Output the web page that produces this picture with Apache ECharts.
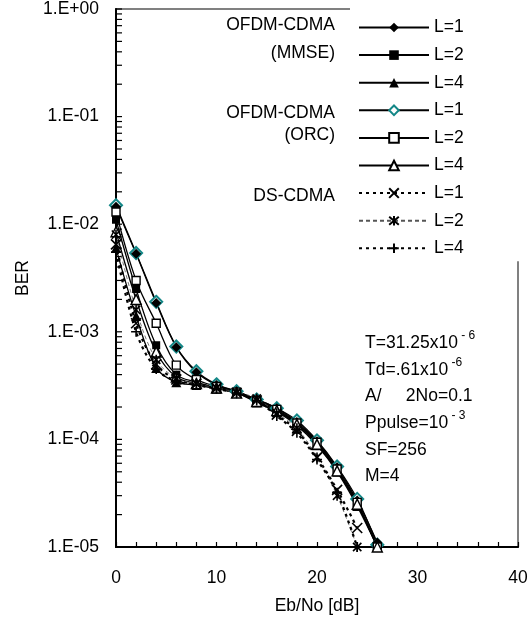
<!DOCTYPE html>
<html>
<head>
<meta charset="utf-8">
<script src="https://cdn.jsdelivr.net/npm/echarts@6/dist/echarts.min.js"></script>
<style>
  html, body { margin: 0; padding: 0; background: #fff; }
  #chart { width: 532px; height: 623px; }
</style>
</head>
<body>
<div id="chart"></div>
<script>
// Eb/No sample points (dB)
const ofdmX = [0, 2, 4, 6, 8, 10, 12, 14, 16, 18, 20, 22, 24, 26];
const dsX = [0, 2, 4, 6, 8, 10, 12, 14, 16, 18, 20, 22, 24];

// OFDM-CDMA, MMSE combining
const mmseL1 = [1.45e-2, 5.3e-3, 1.85e-3, 7.2e-4, 4.2e-4, 3.2e-4, 2.8e-4, 2.35e-4, 1.95e-4, 1.45e-4, 9.6e-5, 5.5e-5, 2.7e-5, 1.1e-5];
const mmseL2 = [1.1e-2, 2.5e-3, 7.5e-4, 4.0e-4, 3.4e-4, 3.0e-4, 2.7e-4, 2.25e-4, 1.85e-4, 1.4e-4, 9.2e-5, 5.2e-5, 2.5e-5, 1.0e-5];
const mmseL4 = [6.0e-3, 1.4e-3, 4.6e-4, 3.4e-4, 3.2e-4, 2.95e-4, 2.7e-4, 2.2e-4, 1.8e-4, 1.35e-4, 8.8e-5, 5.0e-5, 2.4e-5, 1.0e-5];
// OFDM-CDMA, ORC
const orcL1 = [1.5e-2, 5.4e-3, 1.9e-3, 7.3e-4, 4.3e-4, 3.25e-4, 2.8e-4, 2.35e-4, 1.95e-4, 1.5e-4, 9.8e-5, 5.6e-5, 2.8e-5, 1.05e-5];
const orcL2 = [1.3e-2, 3.0e-3, 1.2e-3, 4.9e-4, 3.6e-4, 3.1e-4, 2.75e-4, 2.3e-4, 1.9e-4, 1.42e-4, 9.4e-5, 5.3e-5, 2.6e-5, 1.0e-5];
const orcL4 = [8.5e-3, 2.0e-3, 6.5e-4, 3.8e-4, 3.3e-4, 3.0e-4, 2.7e-4, 2.25e-4, 1.85e-4, 1.38e-4, 9.0e-5, 5.1e-5, 2.5e-5, 1.0e-5];
// DS-CDMA
const dsL1 = [6.5e-3, 1.2e-3, 5.0e-4, 3.6e-4, 3.3e-4, 3.0e-4, 2.7e-4, 2.3e-4, 1.7e-4, 1.2e-4, 6.8e-5, 3.4e-5, 1.5e-5];
const dsL2 = [8.0e-3, 1.6e-3, 5.5e-4, 3.7e-4, 3.3e-4, 3.0e-4, 2.75e-4, 2.4e-4, 1.75e-4, 1.27e-4, 6.8e-5, 3.0e-5, 1.0e-5];
const dsL4 = [5.5e-3, 1.0e-3, 4.5e-4, 3.5e-4, 3.2e-4, 2.95e-4, 2.7e-4, 2.3e-4, 1.65e-4, 1.15e-4, 6.5e-5, 3.2e-5, 1.0e-5];

// log axis ticks (decades and their 2..9 multiples)
const decades = [1e-5, 1e-4, 1e-3, 1e-2, 1e-1];
const tickMultipliers = [1, 2, 3, 4, 5, 6, 7, 8, 9];

const FONT = '"Liberation Sans", Arial, sans-serif';
const FS = 17.5;

const chart = echarts.init(document.getElementById('chart'));

function pairs(xs, ys) {
    return ys.map((y, i) => [xs[i], y]);
}

let yTicks = [[0, 1]];
decades.forEach(d => tickMultipliers.forEach(m => yTicks.push([0, d * m])));

const crossPath = 'path://M0,0L10,10M10,0L0,10';
const starPath = 'path://M0,1L10,11M10,1L0,11M5,0L5,12';
const plusPath = 'path://M5,0L5,10M0,5L10,5';

function ofdmSeries(name, ys, symbol, size, itemStyle) {
    return {
        name: name,
        type: 'line',
        data: pairs(ofdmX, ys),
        smooth: 0.35,
        symbol: symbol,
        symbolSize: size,
        color: '#000',
        lineStyle: { color: '#000', width: 1.3 },
        itemStyle: itemStyle
    };
}

function dsSeries(name, ys, symbol, lineStyle) {
    return {
        name: name,
        type: 'line',
        data: pairs(dsX, ys),
        smooth: 0.35,
        symbol: symbol,
        symbolSize: 10,
        symbolKeepAspect: true,
        color: '#000',
        lineStyle: lineStyle,
        itemStyle: { color: '#000', borderColor: '#000', borderWidth: 1.6 }
    };
}

const option = {
    animation: false,
    textStyle: { fontFamily: FONT },
    grid: {
        left: 116, right: 14, top: 7, bottom: 76,
        show: true, borderColor: '#808080', borderWidth: 2
    },
    legend: {
        orient: 'vertical',
        left: 350,
        top: 0,
        padding: [18.5, 90, 4, 8],
        backgroundColor: '#fff',
        itemWidth: 70,
        itemHeight: 12,
        itemGap: 9.6,
        textStyle: { fontSize: FS, lineHeight: 17, color: '#000', fontFamily: FONT },
        formatter: name => name.split(' ')[1],
        data: ['MMSE L=1', 'MMSE L=2', 'MMSE L=4', 'ORC L=1', 'ORC L=2', 'ORC L=4', 'DS L=1', 'DS L=2', 'DS L=4']
    },
    xAxis: {
        type: 'value',
        min: 0, max: 40, interval: 10,
        name: 'Eb/No [dB]',
        nameLocation: 'middle',
        nameGap: 50,
        nameTextStyle: { fontSize: FS, color: '#000' },
        axisLine: { lineStyle: { color: '#000', width: 2 } },
        axisTick: { inside: true, length: 5, lineStyle: { color: '#000', width: 1.2 } },
        minorTick: { show: true, splitNumber: 5, length: 5, lineStyle: { color: '#000', width: 1.2 } },
        splitLine: { show: false },
        axisLabel: { fontSize: FS, color: '#000', margin: 22 }
    },
    yAxis: {
        type: 'log',
        logBase: 10,
        min: 1e-5, max: 1,
        name: 'BER',
        nameLocation: 'middle',
        nameGap: 84,
        nameTextStyle: { fontSize: FS, color: '#000' },
        axisLine: { show: true, lineStyle: { color: '#000', width: 2 } },
        axisTick: { show: false },
        splitLine: { show: false },
        axisLabel: {
            fontSize: FS, color: '#000', margin: 17, padding: [10, 0, 0, 0],
            formatter: v => {
                const e = Math.round(Math.log10(v));
                return '1.E' + (e < 0 ? '-' : '+') + String(Math.abs(e)).padStart(2, '0');
            }
        }
    },
    graphic: [
        { type: 'text', x: 335, y: 25, style: { text: 'OFDM-CDMA', align: 'right', verticalAlign: 'middle', font: FS + 'px ' + FONT, fill: '#000' } },
        { type: 'text', x: 335, y: 53, style: { text: '(MMSE)', align: 'right', verticalAlign: 'middle', font: FS + 'px ' + FONT, fill: '#000' } },
        { type: 'text', x: 335, y: 113, style: { text: 'OFDM-CDMA', align: 'right', verticalAlign: 'middle', font: FS + 'px ' + FONT, fill: '#000' } },
        { type: 'text', x: 335, y: 135, style: { text: '(ORC)', align: 'right', verticalAlign: 'middle', font: FS + 'px ' + FONT, fill: '#000' } },
        { type: 'text', x: 335, y: 196, style: { text: 'DS-CDMA', align: 'right', verticalAlign: 'middle', font: FS + 'px ' + FONT, fill: '#000' } },
        {
            type: 'text', x: 365, y: 330,
            style: {
                text: '{a|T=31.25x10}{s| - 6}\n{a|Td=.61x10}{s| -6}\n{a|A/     2No=0.1}\n{a|Ppulse=10}{s| - 3}\n{a|SF=256}\n{a|M=4}',
                verticalAlign: 'top',
                fill: '#000',
                rich: {
                    a: { fontSize: FS, fontFamily: FONT, lineHeight: 26.6, fill: '#000' },
                    s: { fontSize: 12, fontFamily: FONT, lineHeight: 8, verticalAlign: 'top', fill: '#000' }
                }
            }
        }
    ],
    series: [
        {
            name: 'ORC L=1', type: 'line', data: pairs(ofdmX, orcL1), smooth: 0.35,
            symbol: 'diamond', symbolSize: 12, color: '#000',
            lineStyle: { color: '#000', width: 1.3 },
            itemStyle: { color: '#fff', borderColor: '#138787', borderWidth: 2 }
        },
        ofdmSeries('MMSE L=1', mmseL1, 'diamond', 10, { color: '#000' }),
        ofdmSeries('MMSE L=2', mmseL2, 'rect', 8, { color: '#000' }),
        ofdmSeries('MMSE L=4', mmseL4, 'triangle', 10, { color: '#000' }),
        ofdmSeries('ORC L=2', orcL2, 'rect', 8, { color: '#fff', borderColor: '#000', borderWidth: 1.4 }),
        ofdmSeries('ORC L=4', orcL4, 'triangle', 10, { color: '#fff', borderColor: '#000', borderWidth: 1.4 }),
        dsSeries('DS L=1', dsL1, crossPath, { color: '#000', width: 2.2, type: [3, 4] }),
        dsSeries('DS L=2', dsL2, starPath, { color: '#555', width: 0.8, type: [4, 3] }),
        dsSeries('DS L=4', dsL4, plusPath, { color: '#000', width: 2.2, type: [3, 4] }),
        {
            name: 'yTicks', type: 'custom', data: yTicks, silent: true, clip: false,
            renderItem: function (params, api) {
                const p = api.coord([api.value(0), api.value(1)]);
                return {
                    type: 'line',
                    shape: { x1: p[0], y1: p[1], x2: p[0] + 6, y2: p[1] },
                    style: { stroke: '#000', lineWidth: 1.2 }
                };
            }
        }
    ]
};

chart.setOption(option);
</script>
</body>
</html>
